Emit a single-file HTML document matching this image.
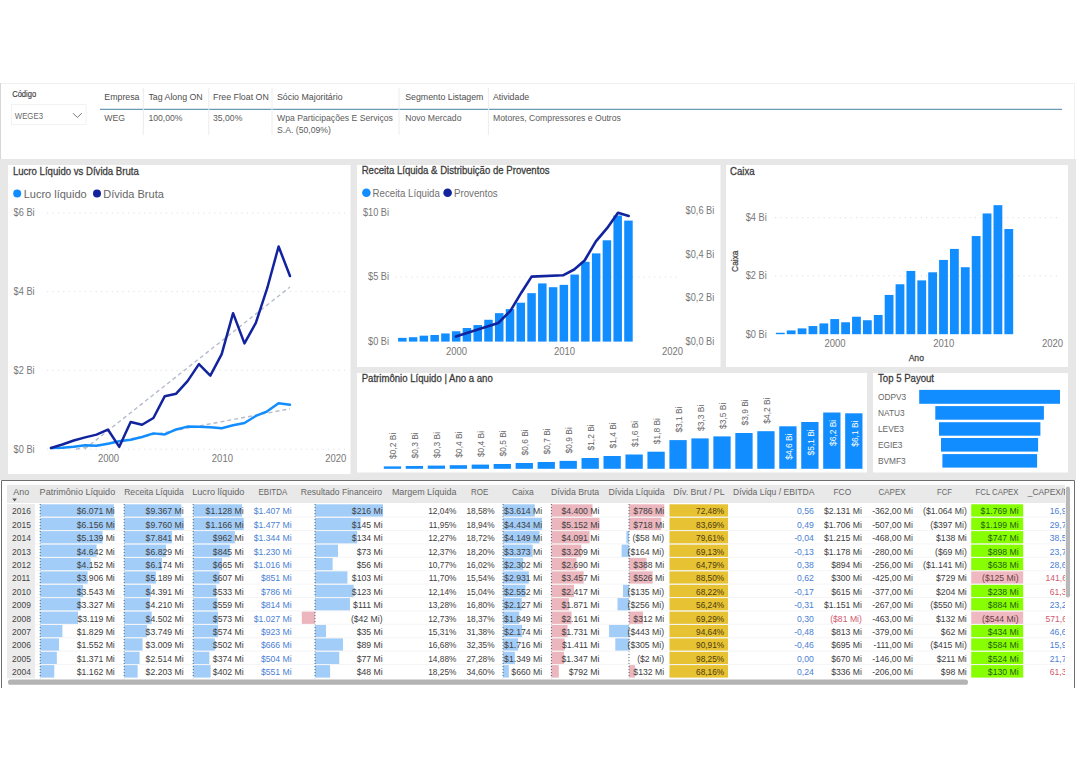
<!DOCTYPE html>
<html><head><meta charset="utf-8"><title>Dashboard</title>
<style>html,body{margin:0;padding:0;background:#fff;} body{width:1076px;height:772px;overflow:hidden;} svg{display:block;font-family:"Liberation Sans",sans-serif;}</style>
</head><body>
<svg width="1076" height="772" viewBox="0 0 1076 772">
<rect x="0.00" y="0.00" width="1076.00" height="772.00" fill="#ffffff" />
<line x1="0.00" y1="83.50" x2="1075.00" y2="83.50" stroke="#f0f0f0" stroke-width="1" />
<line x1="0.50" y1="83.00" x2="0.50" y2="159.00" stroke="#d6d6d6" stroke-width="1" />
<line x1="1074.50" y1="83.00" x2="1074.50" y2="159.00" stroke="#f0f0f0" stroke-width="1" />
<rect x="0.00" y="159.00" width="1076.00" height="321.00" fill="#e7e7e7" />
<rect x="8.00" y="165.00" width="342.50" height="309.00" fill="#ffffff" />
<rect x="357.00" y="165.00" width="363.50" height="202.00" fill="#ffffff" />
<rect x="726.00" y="165.00" width="342.00" height="202.00" fill="#ffffff" />
<rect x="357.00" y="373.00" width="510.00" height="99.50" fill="#ffffff" />
<rect x="873.00" y="373.00" width="195.00" height="99.50" fill="#ffffff" />
<text x="12.20" y="96.80" font-size="8.4" fill="#3a3a3a" text-anchor="start" font-weight="normal" stroke="#3a3a3a" stroke-width="0.15" textLength="24" lengthAdjust="spacingAndGlyphs">Código</text>
<rect x="11.5" y="104.5" width="74.5" height="20" fill="#fff" stroke="#f2f2f2" stroke-width="1"/>
<text x="14.80" y="118.80" font-size="9.2" fill="#6a6a6a" text-anchor="start" font-weight="normal" textLength="28.2" lengthAdjust="spacingAndGlyphs">WEGE3</text>
<polyline points="73,113.2 77.3,117.5 81.8,113.2" fill="none" stroke="#777" stroke-width="1"/>
<text x="104.30" y="100.10" font-size="9.7" fill="#4e4e4e" text-anchor="start" font-weight="normal"  textLength="35.21" lengthAdjust="spacingAndGlyphs">Empresa</text>
<text x="148.40" y="100.10" font-size="9.7" fill="#4e4e4e" text-anchor="start" font-weight="normal"  textLength="54.30" lengthAdjust="spacingAndGlyphs">Tag Along ON</text>
<text x="213.00" y="100.10" font-size="9.7" fill="#4e4e4e" text-anchor="start" font-weight="normal"  textLength="55.75" lengthAdjust="spacingAndGlyphs">Free Float ON</text>
<text x="277.00" y="100.10" font-size="9.7" fill="#4e4e4e" text-anchor="start" font-weight="normal"  textLength="65.54" lengthAdjust="spacingAndGlyphs">Sócio Majoritário</text>
<text x="405.20" y="100.10" font-size="9.7" fill="#4e4e4e" text-anchor="start" font-weight="normal"  textLength="78.27" lengthAdjust="spacingAndGlyphs">Segmento Listagem</text>
<text x="493.00" y="100.10" font-size="9.7" fill="#4e4e4e" text-anchor="start" font-weight="normal"  textLength="36.20" lengthAdjust="spacingAndGlyphs">Atividade</text>
<line x1="100.00" y1="109.30" x2="1062.00" y2="109.30" stroke="#6a9bb0" stroke-width="1.2" />
<line x1="143.30" y1="88.00" x2="143.30" y2="135.00" stroke="#ececec" stroke-width="1" />
<line x1="208.80" y1="88.00" x2="208.80" y2="135.00" stroke="#ececec" stroke-width="1" />
<line x1="272.00" y1="88.00" x2="272.00" y2="135.00" stroke="#ececec" stroke-width="1" />
<line x1="399.00" y1="88.00" x2="399.00" y2="135.00" stroke="#ececec" stroke-width="1" />
<line x1="488.40" y1="88.00" x2="488.40" y2="135.00" stroke="#ececec" stroke-width="1" />
<text x="104.30" y="121.00" font-size="9.5" fill="#5c5c5c" text-anchor="start" font-weight="normal"  textLength="20.66" lengthAdjust="spacingAndGlyphs">WEG</text>
<text x="148.40" y="121.00" font-size="9.5" fill="#5c5c5c" text-anchor="start" font-weight="normal"  textLength="34.15" lengthAdjust="spacingAndGlyphs">100,00%</text>
<text x="213.00" y="121.00" font-size="9.5" fill="#5c5c5c" text-anchor="start" font-weight="normal"  textLength="29.34" lengthAdjust="spacingAndGlyphs">35,00%</text>
<text x="277.00" y="121.00" font-size="9.5" fill="#5c5c5c" text-anchor="start" font-weight="normal"  textLength="115.86" lengthAdjust="spacingAndGlyphs">Wpa Participações E Serviços</text>
<text x="405.20" y="121.00" font-size="9.5" fill="#5c5c5c" text-anchor="start" font-weight="normal"  textLength="56.25" lengthAdjust="spacingAndGlyphs">Novo Mercado</text>
<text x="493.00" y="121.00" font-size="9.5" fill="#5c5c5c" text-anchor="start" font-weight="normal"  textLength="127.87" lengthAdjust="spacingAndGlyphs">Motores, Compressores e Outros</text>
<text x="277.00" y="132.60" font-size="9.5" fill="#5c5c5c" text-anchor="start" font-weight="normal"  textLength="53.85" lengthAdjust="spacingAndGlyphs">S.A. (50,09%)</text>
<text x="12.90" y="174.60" font-size="10.6" fill="#3a3a3a" text-anchor="start" font-weight="normal" stroke="#3a3a3a" stroke-width="0.28" textLength="125.93" lengthAdjust="spacingAndGlyphs">Lucro Líquido vs Dívida Bruta</text>
<circle cx="17.2" cy="193.4" r="4" fill="#118DFF"/>
<text x="23.70" y="197.90" font-size="11.8" fill="#666" text-anchor="start" font-weight="normal"  textLength="62.99" lengthAdjust="spacingAndGlyphs">Lucro líquido</text>
<circle cx="97" cy="193.4" r="4" fill="#12239E"/>
<text x="103.30" y="197.90" font-size="11.8" fill="#666" text-anchor="start" font-weight="normal"  textLength="60.53" lengthAdjust="spacingAndGlyphs">Dívida Bruta</text>
<text x="13.60" y="216.40" font-size="10.3" fill="#777" text-anchor="start" font-weight="normal"  textLength="20.97" lengthAdjust="spacingAndGlyphs">$6 Bi</text>
<line x1="47.00" y1="213.00" x2="345.00" y2="213.00" stroke="#e0e0e0" stroke-width="1" stroke-dasharray="1.2,4.2"/>
<text x="13.60" y="295.00" font-size="10.3" fill="#777" text-anchor="start" font-weight="normal"  textLength="20.97" lengthAdjust="spacingAndGlyphs">$4 Bi</text>
<line x1="47.00" y1="291.60" x2="345.00" y2="291.60" stroke="#e0e0e0" stroke-width="1" stroke-dasharray="1.2,4.2"/>
<text x="13.60" y="373.70" font-size="10.3" fill="#777" text-anchor="start" font-weight="normal"  textLength="20.97" lengthAdjust="spacingAndGlyphs">$2 Bi</text>
<line x1="47.00" y1="370.30" x2="345.00" y2="370.30" stroke="#e0e0e0" stroke-width="1" stroke-dasharray="1.2,4.2"/>
<text x="13.60" y="452.60" font-size="10.3" fill="#777" text-anchor="start" font-weight="normal"  textLength="20.97" lengthAdjust="spacingAndGlyphs">$0 Bi</text>
<line x1="47.00" y1="449.20" x2="345.00" y2="449.20" stroke="#e0e0e0" stroke-width="1" stroke-dasharray="1.2,4.2"/>
<text x="108.60" y="461.80" font-size="10.4" fill="#777" text-anchor="middle" font-weight="normal"  textLength="21.13" lengthAdjust="spacingAndGlyphs">2000</text>
<text x="222.40" y="461.80" font-size="10.4" fill="#777" text-anchor="middle" font-weight="normal"  textLength="21.13" lengthAdjust="spacingAndGlyphs">2010</text>
<text x="335.80" y="461.80" font-size="10.4" fill="#777" text-anchor="middle" font-weight="normal"  textLength="21.13" lengthAdjust="spacingAndGlyphs">2020</text>
<line x1="84.70" y1="449.00" x2="290.00" y2="287.00" stroke="#b4bccc" stroke-width="1.4" stroke-dasharray="4,3"/>
<line x1="76.00" y1="449.20" x2="290.00" y2="408.80" stroke="#b4bccc" stroke-width="1.4" stroke-dasharray="4,3"/>
<polyline points="51.00,448.02 62.38,447.63 73.76,446.84 85.14,445.26 96.52,445.66 107.90,443.69 119.28,441.33 130.66,439.76 142.04,437.00 153.42,433.38 164.80,434.48 176.18,429.45 187.56,426.61 198.94,426.65 210.32,427.20 221.70,428.23 233.08,425.31 244.46,423.03 255.84,415.95 267.22,411.35 278.60,403.32 289.98,404.81" fill="none" stroke="#118DFF" stroke-width="2.5" stroke-linejoin="round" stroke-linecap="round"/>
<polyline points="51.00,448.02 62.38,444.48 73.76,440.54 85.14,437.39 96.52,434.64 107.90,429.52 119.28,446.84 130.66,422.05 142.04,424.80 153.42,418.03 164.80,396.20 176.18,393.68 187.56,381.09 198.94,364.16 210.32,375.58 221.70,354.09 233.08,313.17 244.46,343.35 255.84,322.93 267.22,288.22 278.60,246.47 289.98,276.06" fill="none" stroke="#12239E" stroke-width="2.5" stroke-linejoin="round" stroke-linecap="round"/>
<text x="361.70" y="174.30" font-size="10.6" fill="#3a3a3a" text-anchor="start" font-weight="normal" stroke="#3a3a3a" stroke-width="0.28" textLength="187.84" lengthAdjust="spacingAndGlyphs">Receita Líquida &amp; Distribuição de Proventos</text>
<circle cx="366.4" cy="192.8" r="4.3" fill="#118DFF"/>
<text x="372.50" y="197.00" font-size="10.5" fill="#707070" text-anchor="start" font-weight="normal"  textLength="67.41" lengthAdjust="spacingAndGlyphs">Receita Líquida</text>
<circle cx="447.6" cy="192.8" r="4.3" fill="#12239E"/>
<text x="454.00" y="197.00" font-size="10.5" fill="#707070" text-anchor="start" font-weight="normal"  textLength="43.67" lengthAdjust="spacingAndGlyphs">Proventos</text>
<text x="389.00" y="215.50" font-size="10.3" fill="#777" text-anchor="end" font-weight="normal"  textLength="26.09" lengthAdjust="spacingAndGlyphs">$10 Bi</text>
<text x="389.00" y="280.00" font-size="10.3" fill="#777" text-anchor="end" font-weight="normal"  textLength="20.97" lengthAdjust="spacingAndGlyphs">$5 Bi</text>
<text x="389.00" y="344.50" font-size="10.3" fill="#777" text-anchor="end" font-weight="normal"  textLength="20.97" lengthAdjust="spacingAndGlyphs">$0 Bi</text>
<line x1="395.00" y1="276.90" x2="680.00" y2="276.90" stroke="#e2e2e2" stroke-width="1" stroke-dasharray="1.2,4.2"/>
<text x="685.60" y="214.20" font-size="10.3" fill="#777" text-anchor="start" font-weight="normal"  textLength="28.64" lengthAdjust="spacingAndGlyphs">$0,6 Bi</text>
<text x="685.60" y="258.30" font-size="10.3" fill="#777" text-anchor="start" font-weight="normal"  textLength="28.64" lengthAdjust="spacingAndGlyphs">$0,4 Bi</text>
<text x="685.60" y="301.40" font-size="10.3" fill="#777" text-anchor="start" font-weight="normal"  textLength="28.64" lengthAdjust="spacingAndGlyphs">$0,2 Bi</text>
<text x="685.60" y="344.90" font-size="10.3" fill="#777" text-anchor="start" font-weight="normal"  textLength="28.64" lengthAdjust="spacingAndGlyphs">$0,0 Bi</text>
<text x="456.50" y="354.90" font-size="10.4" fill="#777" text-anchor="middle" font-weight="normal"  textLength="21.13" lengthAdjust="spacingAndGlyphs">2000</text>
<text x="564.50" y="354.90" font-size="10.4" fill="#777" text-anchor="middle" font-weight="normal"  textLength="21.13" lengthAdjust="spacingAndGlyphs">2010</text>
<text x="672.50" y="354.90" font-size="10.4" fill="#777" text-anchor="middle" font-weight="normal"  textLength="21.13" lengthAdjust="spacingAndGlyphs">2020</text>
<rect x="398.10" y="337.85" width="8.50" height="3.75" fill="#118DFF" />
<rect x="408.87" y="337.21" width="8.50" height="4.39" fill="#118DFF" />
<rect x="419.63" y="335.66" width="8.50" height="5.94" fill="#118DFF" />
<rect x="430.40" y="335.01" width="8.50" height="6.59" fill="#118DFF" />
<rect x="441.17" y="333.46" width="8.50" height="8.14" fill="#118DFF" />
<rect x="451.94" y="331.26" width="8.50" height="10.34" fill="#118DFF" />
<rect x="462.70" y="328.03" width="8.50" height="13.57" fill="#118DFF" />
<rect x="473.47" y="325.06" width="8.50" height="16.54" fill="#118DFF" />
<rect x="484.24" y="319.77" width="8.50" height="21.83" fill="#118DFF" />
<rect x="495.00" y="313.14" width="8.50" height="28.46" fill="#118DFF" />
<rect x="505.77" y="309.12" width="8.50" height="32.48" fill="#118DFF" />
<rect x="516.54" y="302.72" width="8.50" height="38.88" fill="#118DFF" />
<rect x="527.30" y="293.16" width="8.50" height="48.44" fill="#118DFF" />
<rect x="538.07" y="283.43" width="8.50" height="58.17" fill="#118DFF" />
<rect x="548.84" y="287.21" width="8.50" height="54.39" fill="#118DFF" />
<rect x="559.61" y="284.87" width="8.50" height="56.73" fill="#118DFF" />
<rect x="570.37" y="274.56" width="8.50" height="67.04" fill="#118DFF" />
<rect x="581.14" y="261.83" width="8.50" height="79.77" fill="#118DFF" />
<rect x="591.91" y="253.37" width="8.50" height="88.23" fill="#118DFF" />
<rect x="602.67" y="240.29" width="8.50" height="101.31" fill="#118DFF" />
<rect x="613.44" y="215.50" width="8.50" height="126.10" fill="#118DFF" />
<rect x="624.21" y="220.58" width="8.50" height="121.02" fill="#118DFF" />
<polyline points="455.90,336.50 498.30,323.00 510.40,310.80 521.30,292.70 531.60,276.60 563.00,275.30 574.20,269.50 584.60,260.50 595.90,241.30 607.10,228.20 618.00,212.80 628.70,216.00" fill="none" stroke="#12239E" stroke-width="2.6" stroke-linejoin="round" stroke-linecap="round"/>
<text x="730.10" y="174.50" font-size="10.6" fill="#3a3a3a" text-anchor="start" font-weight="normal" stroke="#3a3a3a" stroke-width="0.28" textLength="24.54" lengthAdjust="spacingAndGlyphs">Caixa</text>
<text x="0" y="0" font-size="9.4" fill="#4a4a4a" stroke="#4a4a4a" stroke-width="0.28" text-anchor="middle" textLength="21.48" lengthAdjust="spacingAndGlyphs" transform="translate(738,261.2) rotate(-90)">Caixa</text>
<text x="766.70" y="221.10" font-size="10.3" fill="#777" text-anchor="end" font-weight="normal"  textLength="20.97" lengthAdjust="spacingAndGlyphs">$4 Bi</text>
<text x="766.70" y="279.20" font-size="10.3" fill="#777" text-anchor="end" font-weight="normal"  textLength="20.97" lengthAdjust="spacingAndGlyphs">$2 Bi</text>
<text x="766.70" y="337.60" font-size="10.3" fill="#777" text-anchor="end" font-weight="normal"  textLength="20.97" lengthAdjust="spacingAndGlyphs">$0 Bi</text>
<line x1="775.00" y1="217.70" x2="1060.00" y2="217.70" stroke="#dedede" stroke-width="1" stroke-dasharray="1.2,4.2"/>
<line x1="775.00" y1="275.80" x2="1060.00" y2="275.80" stroke="#dedede" stroke-width="1" stroke-dasharray="1.2,4.2"/>
<rect x="775.90" y="332.75" width="8.80" height="1.46" fill="#118DFF" />
<rect x="786.78" y="330.42" width="8.80" height="3.78" fill="#118DFF" />
<rect x="797.66" y="328.38" width="8.80" height="5.82" fill="#118DFF" />
<rect x="808.54" y="326.05" width="8.80" height="8.15" fill="#118DFF" />
<rect x="819.42" y="323.43" width="8.80" height="10.77" fill="#118DFF" />
<rect x="830.30" y="319.07" width="8.80" height="15.13" fill="#118DFF" />
<rect x="841.18" y="322.27" width="8.80" height="11.93" fill="#118DFF" />
<rect x="852.06" y="316.74" width="8.80" height="17.46" fill="#118DFF" />
<rect x="862.94" y="320.23" width="8.80" height="13.97" fill="#118DFF" />
<rect x="873.82" y="314.99" width="8.80" height="19.21" fill="#118DFF" />
<rect x="884.70" y="294.94" width="8.80" height="39.26" fill="#118DFF" />
<rect x="895.58" y="284.26" width="8.80" height="49.94" fill="#118DFF" />
<rect x="906.46" y="270.94" width="8.80" height="63.26" fill="#118DFF" />
<rect x="917.34" y="280.39" width="8.80" height="53.81" fill="#118DFF" />
<rect x="928.22" y="272.30" width="8.80" height="61.90" fill="#118DFF" />
<rect x="939.10" y="259.94" width="8.80" height="74.26" fill="#118DFF" />
<rect x="949.98" y="248.91" width="8.80" height="85.29" fill="#118DFF" />
<rect x="960.86" y="267.21" width="8.80" height="66.99" fill="#118DFF" />
<rect x="971.74" y="236.05" width="8.80" height="98.15" fill="#118DFF" />
<rect x="982.62" y="213.46" width="8.80" height="120.74" fill="#118DFF" />
<rect x="993.50" y="205.17" width="8.80" height="129.03" fill="#118DFF" />
<rect x="1004.38" y="229.03" width="8.80" height="105.17" fill="#118DFF" />
<text x="835.00" y="347.20" font-size="10.4" fill="#777" text-anchor="middle" font-weight="normal"  textLength="21.13" lengthAdjust="spacingAndGlyphs">2000</text>
<text x="943.80" y="347.20" font-size="10.4" fill="#777" text-anchor="middle" font-weight="normal"  textLength="21.13" lengthAdjust="spacingAndGlyphs">2010</text>
<text x="1052.60" y="347.20" font-size="10.4" fill="#777" text-anchor="middle" font-weight="normal"  textLength="21.13" lengthAdjust="spacingAndGlyphs">2020</text>
<text x="916.30" y="361.00" font-size="9.4" fill="#4a4a4a" text-anchor="middle" font-weight="normal" stroke="#4a4a4a" stroke-width="0.28" textLength="15.30" lengthAdjust="spacingAndGlyphs">Ano</text>
<text x="361.70" y="382.40" font-size="10.6" fill="#3a3a3a" text-anchor="start" font-weight="normal" stroke="#3a3a3a" stroke-width="0.28" textLength="131.12" lengthAdjust="spacingAndGlyphs">Patrimônio Líquido | Ano a ano</text>
<rect x="383.80" y="466.40" width="17.30" height="2.40" fill="#118DFF" />
<text x="0" y="0" font-size="9.2" fill="#666" textLength="26.15" lengthAdjust="spacingAndGlyphs" transform="translate(396.05,458.90) rotate(-90)">$0,2 Bi</text>
<rect x="405.77" y="466.00" width="17.30" height="2.80" fill="#118DFF" />
<text x="0" y="0" font-size="9.2" fill="#666" textLength="26.15" lengthAdjust="spacingAndGlyphs" transform="translate(418.02,458.50) rotate(-90)">$0,3 Bi</text>
<rect x="427.74" y="465.60" width="17.30" height="3.20" fill="#118DFF" />
<text x="0" y="0" font-size="9.2" fill="#666" textLength="26.15" lengthAdjust="spacingAndGlyphs" transform="translate(439.99,458.10) rotate(-90)">$0,3 Bi</text>
<rect x="449.71" y="465.20" width="17.30" height="3.60" fill="#118DFF" />
<text x="0" y="0" font-size="9.2" fill="#666" textLength="26.15" lengthAdjust="spacingAndGlyphs" transform="translate(461.96,457.70) rotate(-90)">$0,4 Bi</text>
<rect x="471.68" y="464.60" width="17.30" height="4.20" fill="#118DFF" />
<text x="0" y="0" font-size="9.2" fill="#666" textLength="26.15" lengthAdjust="spacingAndGlyphs" transform="translate(483.93,457.10) rotate(-90)">$0,4 Bi</text>
<rect x="493.65" y="464.00" width="17.30" height="4.80" fill="#118DFF" />
<text x="0" y="0" font-size="9.2" fill="#666" textLength="26.15" lengthAdjust="spacingAndGlyphs" transform="translate(505.90,456.50) rotate(-90)">$0,5 Bi</text>
<rect x="515.62" y="463.00" width="17.30" height="5.80" fill="#118DFF" />
<text x="0" y="0" font-size="9.2" fill="#666" textLength="26.15" lengthAdjust="spacingAndGlyphs" transform="translate(527.87,455.50) rotate(-90)">$0,6 Bi</text>
<rect x="537.59" y="462.00" width="17.30" height="6.80" fill="#118DFF" />
<text x="0" y="0" font-size="9.2" fill="#666" textLength="26.15" lengthAdjust="spacingAndGlyphs" transform="translate(549.84,454.50) rotate(-90)">$0,7 Bi</text>
<rect x="559.56" y="460.90" width="17.30" height="7.90" fill="#118DFF" />
<text x="0" y="0" font-size="9.2" fill="#666" textLength="26.15" lengthAdjust="spacingAndGlyphs" transform="translate(571.81,453.40) rotate(-90)">$0,9 Bi</text>
<rect x="581.53" y="458.00" width="17.30" height="10.80" fill="#118DFF" />
<text x="0" y="0" font-size="9.2" fill="#666" textLength="26.15" lengthAdjust="spacingAndGlyphs" transform="translate(593.78,450.50) rotate(-90)">$1,2 Bi</text>
<rect x="603.50" y="456.00" width="17.30" height="12.80" fill="#118DFF" />
<text x="0" y="0" font-size="9.2" fill="#666" textLength="26.15" lengthAdjust="spacingAndGlyphs" transform="translate(615.75,448.50) rotate(-90)">$1,4 Bi</text>
<rect x="625.47" y="454.50" width="17.30" height="14.30" fill="#118DFF" />
<text x="0" y="0" font-size="9.2" fill="#666" textLength="26.15" lengthAdjust="spacingAndGlyphs" transform="translate(637.72,447.00) rotate(-90)">$1,6 Bi</text>
<rect x="647.44" y="451.70" width="17.30" height="17.10" fill="#118DFF" />
<text x="0" y="0" font-size="9.2" fill="#666" textLength="26.15" lengthAdjust="spacingAndGlyphs" transform="translate(659.69,444.20) rotate(-90)">$1,8 Bi</text>
<rect x="669.41" y="440.10" width="17.30" height="28.70" fill="#118DFF" />
<text x="0" y="0" font-size="9.2" fill="#666" textLength="26.15" lengthAdjust="spacingAndGlyphs" transform="translate(681.66,432.60) rotate(-90)">$3,1 Bi</text>
<rect x="691.38" y="438.40" width="17.30" height="30.40" fill="#118DFF" />
<text x="0" y="0" font-size="9.2" fill="#666" textLength="26.15" lengthAdjust="spacingAndGlyphs" transform="translate(703.63,430.90) rotate(-90)">$3,3 Bi</text>
<rect x="713.35" y="436.40" width="17.30" height="32.40" fill="#118DFF" />
<text x="0" y="0" font-size="9.2" fill="#666" textLength="26.15" lengthAdjust="spacingAndGlyphs" transform="translate(725.60,428.90) rotate(-90)">$3,5 Bi</text>
<rect x="735.32" y="433.00" width="17.30" height="35.80" fill="#118DFF" />
<text x="0" y="0" font-size="9.2" fill="#666" textLength="26.15" lengthAdjust="spacingAndGlyphs" transform="translate(747.57,425.50) rotate(-90)">$3,9 Bi</text>
<rect x="757.29" y="431.20" width="17.30" height="37.60" fill="#118DFF" />
<text x="0" y="0" font-size="9.2" fill="#666" textLength="26.15" lengthAdjust="spacingAndGlyphs" transform="translate(769.54,423.70) rotate(-90)">$4,2 Bi</text>
<rect x="779.26" y="426.30" width="17.30" height="42.50" fill="#118DFF" />
<text x="0" y="0" font-size="9.2" fill="#fff" text-anchor="end" textLength="26.15" lengthAdjust="spacingAndGlyphs" transform="translate(791.71,433.60) rotate(-90)">$4,6 Bi</text>
<rect x="801.23" y="422.00" width="17.30" height="46.80" fill="#118DFF" />
<text x="0" y="0" font-size="9.2" fill="#fff" text-anchor="end" textLength="26.15" lengthAdjust="spacingAndGlyphs" transform="translate(813.68,429.30) rotate(-90)">$5,1 Bi</text>
<rect x="823.20" y="412.50" width="17.30" height="56.30" fill="#118DFF" />
<text x="0" y="0" font-size="9.2" fill="#fff" text-anchor="end" textLength="26.15" lengthAdjust="spacingAndGlyphs" transform="translate(835.65,419.80) rotate(-90)">$6,2 Bi</text>
<rect x="845.17" y="413.30" width="17.30" height="55.50" fill="#118DFF" />
<text x="0" y="0" font-size="9.2" fill="#fff" text-anchor="end" textLength="26.15" lengthAdjust="spacingAndGlyphs" transform="translate(857.62,420.60) rotate(-90)">$6,1 Bi</text>
<text x="878.00" y="382.00" font-size="10.6" fill="#3a3a3a" text-anchor="start" font-weight="normal" stroke="#3a3a3a" stroke-width="0.28" textLength="56.04" lengthAdjust="spacingAndGlyphs">Top 5 Payout</text>
<rect x="919.20" y="389.90" width="140.80" height="13.90" fill="#118DFF" />
<text x="878.00" y="400.15" font-size="9.3" fill="#666" text-anchor="start" font-weight="normal"  textLength="28.14" lengthAdjust="spacingAndGlyphs">ODPV3</text>
<rect x="935.30" y="406.10" width="108.60" height="13.60" fill="#118DFF" />
<text x="878.00" y="416.20" font-size="9.3" fill="#666" text-anchor="start" font-weight="normal"  textLength="26.59" lengthAdjust="spacingAndGlyphs">NATU3</text>
<rect x="939.00" y="422.20" width="101.40" height="13.50" fill="#118DFF" />
<text x="878.00" y="432.25" font-size="9.3" fill="#666" text-anchor="start" font-weight="normal"  textLength="25.84" lengthAdjust="spacingAndGlyphs">LEVE3</text>
<rect x="941.00" y="438.00" width="97.10" height="13.60" fill="#118DFF" />
<text x="878.00" y="448.10" font-size="9.3" fill="#666" text-anchor="start" font-weight="normal"  textLength="24.45" lengthAdjust="spacingAndGlyphs">EGIE3</text>
<rect x="942.40" y="454.10" width="94.70" height="13.50" fill="#118DFF" />
<text x="878.00" y="464.15" font-size="9.3" fill="#666" text-anchor="start" font-weight="normal"  textLength="27.67" lengthAdjust="spacingAndGlyphs">BVMF3</text>
<rect x="1.5" y="480.5" width="1073" height="208" fill="#fff"/>
<path d="M1.5,688 L1.5,480.5 L1074.5,480.5 L1074.5,688" fill="none" stroke="#6e6e6e" stroke-width="1"/>
<rect x="7.00" y="484.80" width="1058.00" height="18.20" fill="#e9e9e9" />
<rect x="7.00" y="504.10" width="28.00" height="174.20" fill="#ececec" />
<rect x="40.20" y="504.30" width="73.67" height="12.50" fill="#a2cdf8" />
<rect x="40.20" y="517.70" width="74.70" height="12.50" fill="#a2cdf8" />
<rect x="40.20" y="531.10" width="62.36" height="12.50" fill="#a2cdf8" />
<rect x="40.20" y="544.50" width="56.33" height="12.50" fill="#a2cdf8" />
<rect x="40.20" y="557.90" width="50.38" height="12.50" fill="#a2cdf8" />
<rect x="40.20" y="571.30" width="47.40" height="12.50" fill="#a2cdf8" />
<rect x="40.20" y="584.70" width="42.99" height="12.50" fill="#a2cdf8" />
<rect x="40.20" y="598.10" width="40.37" height="12.50" fill="#a2cdf8" />
<rect x="40.20" y="611.50" width="37.85" height="12.50" fill="#a2cdf8" />
<rect x="40.20" y="624.90" width="22.19" height="12.50" fill="#a2cdf8" />
<rect x="40.20" y="638.30" width="18.83" height="12.50" fill="#a2cdf8" />
<rect x="40.20" y="651.70" width="16.64" height="12.50" fill="#a2cdf8" />
<rect x="40.20" y="665.10" width="14.10" height="12.50" fill="#a2cdf8" />
<line x1="40.20" y1="504.10" x2="40.20" y2="678.30" stroke="#3a4a5a" stroke-width="0.9" stroke-dasharray="1,2"/>
<rect x="124.20" y="504.30" width="57.20" height="12.50" fill="#a2cdf8" />
<rect x="124.20" y="517.70" width="59.60" height="12.50" fill="#a2cdf8" />
<rect x="124.20" y="531.10" width="47.88" height="12.50" fill="#a2cdf8" />
<rect x="124.20" y="544.50" width="41.70" height="12.50" fill="#a2cdf8" />
<rect x="124.20" y="557.90" width="37.70" height="12.50" fill="#a2cdf8" />
<rect x="124.20" y="571.30" width="31.69" height="12.50" fill="#a2cdf8" />
<rect x="124.20" y="584.70" width="26.81" height="12.50" fill="#a2cdf8" />
<rect x="124.20" y="598.10" width="25.71" height="12.50" fill="#a2cdf8" />
<rect x="124.20" y="611.50" width="27.49" height="12.50" fill="#a2cdf8" />
<rect x="124.20" y="624.90" width="22.89" height="12.50" fill="#a2cdf8" />
<rect x="124.20" y="638.30" width="18.37" height="12.50" fill="#a2cdf8" />
<rect x="124.20" y="651.70" width="15.35" height="12.50" fill="#a2cdf8" />
<rect x="124.20" y="665.10" width="13.45" height="12.50" fill="#a2cdf8" />
<line x1="124.20" y1="504.10" x2="124.20" y2="678.30" stroke="#3a4a5a" stroke-width="0.9" stroke-dasharray="1,2"/>
<rect x="193.20" y="504.30" width="48.85" height="12.50" fill="#a2cdf8" />
<rect x="193.20" y="517.70" width="50.50" height="12.50" fill="#a2cdf8" />
<rect x="193.20" y="531.10" width="41.66" height="12.50" fill="#a2cdf8" />
<rect x="193.20" y="544.50" width="36.60" height="12.50" fill="#a2cdf8" />
<rect x="193.20" y="557.90" width="28.80" height="12.50" fill="#a2cdf8" />
<rect x="193.20" y="571.30" width="26.29" height="12.50" fill="#a2cdf8" />
<rect x="193.20" y="584.70" width="23.08" height="12.50" fill="#a2cdf8" />
<rect x="193.20" y="598.10" width="24.21" height="12.50" fill="#a2cdf8" />
<rect x="193.20" y="611.50" width="24.82" height="12.50" fill="#a2cdf8" />
<rect x="193.20" y="624.90" width="24.86" height="12.50" fill="#a2cdf8" />
<rect x="193.20" y="638.30" width="21.74" height="12.50" fill="#a2cdf8" />
<rect x="193.20" y="651.70" width="16.20" height="12.50" fill="#a2cdf8" />
<rect x="193.20" y="665.10" width="17.41" height="12.50" fill="#a2cdf8" />
<line x1="193.20" y1="504.10" x2="193.20" y2="678.30" stroke="#3a4a5a" stroke-width="0.9" stroke-dasharray="1,2"/>
<rect x="315.00" y="504.30" width="68.00" height="12.50" fill="#a2cdf8" />
<rect x="315.00" y="517.70" width="45.65" height="12.50" fill="#a2cdf8" />
<rect x="315.00" y="531.10" width="42.19" height="12.50" fill="#a2cdf8" />
<rect x="315.00" y="544.50" width="22.98" height="12.50" fill="#a2cdf8" />
<rect x="315.00" y="557.90" width="17.63" height="12.50" fill="#a2cdf8" />
<rect x="315.00" y="571.30" width="32.43" height="12.50" fill="#a2cdf8" />
<rect x="315.00" y="584.70" width="38.72" height="12.50" fill="#a2cdf8" />
<rect x="315.00" y="598.10" width="34.94" height="12.50" fill="#a2cdf8" />
<rect x="301.78" y="611.50" width="13.22" height="12.50" fill="#ebb6be" />
<rect x="315.00" y="624.90" width="11.02" height="12.50" fill="#a2cdf8" />
<rect x="315.00" y="638.30" width="28.02" height="12.50" fill="#a2cdf8" />
<rect x="315.00" y="651.70" width="24.24" height="12.50" fill="#a2cdf8" />
<rect x="315.00" y="665.10" width="15.11" height="12.50" fill="#a2cdf8" />
<line x1="315.00" y1="504.10" x2="315.00" y2="678.30" stroke="#3a4a5a" stroke-width="0.9" stroke-dasharray="1,2"/>
<rect x="503.00" y="504.30" width="31.79" height="12.50" fill="#a2cdf8" />
<rect x="503.00" y="517.70" width="39.00" height="12.50" fill="#a2cdf8" />
<rect x="503.00" y="531.10" width="36.49" height="12.50" fill="#a2cdf8" />
<rect x="503.00" y="544.50" width="29.67" height="12.50" fill="#a2cdf8" />
<rect x="503.00" y="557.90" width="20.25" height="12.50" fill="#a2cdf8" />
<rect x="503.00" y="571.30" width="25.78" height="12.50" fill="#a2cdf8" />
<rect x="503.00" y="584.70" width="22.45" height="12.50" fill="#a2cdf8" />
<rect x="503.00" y="598.10" width="18.71" height="12.50" fill="#a2cdf8" />
<rect x="503.00" y="611.50" width="16.26" height="12.50" fill="#a2cdf8" />
<rect x="503.00" y="624.90" width="19.12" height="12.50" fill="#a2cdf8" />
<rect x="503.00" y="638.30" width="15.09" height="12.50" fill="#a2cdf8" />
<rect x="503.00" y="651.70" width="11.87" height="12.50" fill="#a2cdf8" />
<rect x="503.00" y="665.10" width="5.81" height="12.50" fill="#a2cdf8" />
<line x1="503.00" y1="504.10" x2="503.00" y2="678.30" stroke="#3a4a5a" stroke-width="0.9" stroke-dasharray="1,2"/>
<rect x="551.40" y="504.30" width="41.08" height="12.50" fill="#ebb6be" />
<rect x="551.40" y="517.70" width="48.10" height="12.50" fill="#ebb6be" />
<rect x="551.40" y="531.10" width="38.19" height="12.50" fill="#ebb6be" />
<rect x="551.40" y="544.50" width="29.96" height="12.50" fill="#ebb6be" />
<rect x="551.40" y="557.90" width="25.11" height="12.50" fill="#ebb6be" />
<rect x="551.40" y="571.30" width="32.28" height="12.50" fill="#ebb6be" />
<rect x="551.40" y="584.70" width="22.57" height="12.50" fill="#ebb6be" />
<rect x="551.40" y="598.10" width="17.47" height="12.50" fill="#ebb6be" />
<rect x="551.40" y="611.50" width="20.18" height="12.50" fill="#ebb6be" />
<rect x="551.40" y="624.90" width="16.16" height="12.50" fill="#ebb6be" />
<rect x="551.40" y="638.30" width="13.17" height="12.50" fill="#ebb6be" />
<rect x="551.40" y="651.70" width="12.58" height="12.50" fill="#ebb6be" />
<rect x="551.40" y="665.10" width="7.39" height="12.50" fill="#ebb6be" />
<line x1="551.40" y1="504.10" x2="551.40" y2="678.30" stroke="#3a4a5a" stroke-width="0.9" stroke-dasharray="1,2"/>
<rect x="629.00" y="504.30" width="35.30" height="12.50" fill="#ebb6be" />
<rect x="629.00" y="517.70" width="32.25" height="12.50" fill="#ebb6be" />
<rect x="626.40" y="531.10" width="2.60" height="12.50" fill="#a2cdf8" />
<rect x="621.63" y="544.50" width="7.37" height="12.50" fill="#a2cdf8" />
<rect x="629.00" y="557.90" width="17.43" height="12.50" fill="#ebb6be" />
<rect x="629.00" y="571.30" width="23.62" height="12.50" fill="#ebb6be" />
<rect x="622.94" y="584.70" width="6.06" height="12.50" fill="#a2cdf8" />
<rect x="617.50" y="598.10" width="11.50" height="12.50" fill="#a2cdf8" />
<rect x="629.00" y="611.50" width="14.01" height="12.50" fill="#ebb6be" />
<rect x="609.10" y="624.90" width="19.90" height="12.50" fill="#a2cdf8" />
<rect x="615.30" y="638.30" width="13.70" height="12.50" fill="#a2cdf8" />
<rect x="628.91" y="651.70" width="0.09" height="12.50" fill="#a2cdf8" />
<rect x="629.00" y="665.10" width="5.93" height="12.50" fill="#ebb6be" />
<line x1="629.00" y1="504.10" x2="629.00" y2="678.30" stroke="#3a4a5a" stroke-width="0.9" stroke-dasharray="1,2"/>
<rect x="669.50" y="504.30" width="58.50" height="12.50" fill="#e7c232" />
<rect x="971.20" y="504.30" width="52.00" height="12.50" fill="#88ff00" />
<rect x="669.50" y="517.70" width="58.50" height="12.50" fill="#e7c232" />
<rect x="971.20" y="517.70" width="52.00" height="12.50" fill="#88ff00" />
<rect x="669.50" y="531.10" width="58.50" height="12.50" fill="#e7c232" />
<rect x="971.20" y="531.10" width="52.00" height="12.50" fill="#88ff00" />
<rect x="669.50" y="544.50" width="58.50" height="12.50" fill="#e7c232" />
<rect x="971.20" y="544.50" width="52.00" height="12.50" fill="#88ff00" />
<rect x="669.50" y="557.90" width="58.50" height="12.50" fill="#e7c232" />
<rect x="971.20" y="557.90" width="52.00" height="12.50" fill="#88ff00" />
<rect x="669.50" y="571.30" width="58.50" height="12.50" fill="#e7c232" />
<rect x="971.20" y="571.30" width="52.00" height="12.50" fill="#f0b9c2" />
<rect x="669.50" y="584.70" width="58.50" height="12.50" fill="#e7c232" />
<rect x="971.20" y="584.70" width="52.00" height="12.50" fill="#88ff00" />
<rect x="669.50" y="598.10" width="58.50" height="12.50" fill="#e7c232" />
<rect x="971.20" y="598.10" width="52.00" height="12.50" fill="#88ff00" />
<rect x="669.50" y="611.50" width="58.50" height="12.50" fill="#e7c232" />
<rect x="971.20" y="611.50" width="52.00" height="12.50" fill="#f0b9c2" />
<rect x="669.50" y="624.90" width="58.50" height="12.50" fill="#e7c232" />
<rect x="971.20" y="624.90" width="52.00" height="12.50" fill="#88ff00" />
<rect x="669.50" y="638.30" width="58.50" height="12.50" fill="#e7c232" />
<rect x="971.20" y="638.30" width="52.00" height="12.50" fill="#88ff00" />
<rect x="669.50" y="651.70" width="58.50" height="12.50" fill="#e7c232" />
<rect x="971.20" y="651.70" width="52.00" height="12.50" fill="#88ff00" />
<rect x="669.50" y="665.10" width="58.50" height="12.50" fill="#e7c232" />
<rect x="971.20" y="665.10" width="52.00" height="12.50" fill="#88ff00" />
<line x1="35.00" y1="517.10" x2="1065.00" y2="517.10" stroke="#f2f2f2" stroke-width="0.8" />
<line x1="35.00" y1="530.50" x2="1065.00" y2="530.50" stroke="#f2f2f2" stroke-width="0.8" />
<line x1="35.00" y1="543.90" x2="1065.00" y2="543.90" stroke="#f2f2f2" stroke-width="0.8" />
<line x1="35.00" y1="557.30" x2="1065.00" y2="557.30" stroke="#f2f2f2" stroke-width="0.8" />
<line x1="35.00" y1="570.70" x2="1065.00" y2="570.70" stroke="#f2f2f2" stroke-width="0.8" />
<line x1="35.00" y1="584.10" x2="1065.00" y2="584.10" stroke="#f2f2f2" stroke-width="0.8" />
<line x1="35.00" y1="597.50" x2="1065.00" y2="597.50" stroke="#f2f2f2" stroke-width="0.8" />
<line x1="35.00" y1="610.90" x2="1065.00" y2="610.90" stroke="#f2f2f2" stroke-width="0.8" />
<line x1="35.00" y1="624.30" x2="1065.00" y2="624.30" stroke="#f2f2f2" stroke-width="0.8" />
<line x1="35.00" y1="637.70" x2="1065.00" y2="637.70" stroke="#f2f2f2" stroke-width="0.8" />
<line x1="35.00" y1="651.10" x2="1065.00" y2="651.10" stroke="#f2f2f2" stroke-width="0.8" />
<line x1="35.00" y1="664.50" x2="1065.00" y2="664.50" stroke="#f2f2f2" stroke-width="0.8" />
<clipPath id="tclip"><rect x="7" y="484" width="1058" height="200"/></clipPath>
<g clip-path="url(#tclip)">
<text x="13.30" y="495.20" font-size="9.3" fill="#666" text-anchor="start" font-weight="normal" textLength="15.85" lengthAdjust="spacingAndGlyphs">Ano</text>
<text x="39.60" y="495.20" font-size="9.3" fill="#666" text-anchor="start" font-weight="normal" textLength="75.60" lengthAdjust="spacingAndGlyphs">Patrimônio Líquido</text>
<text x="124.20" y="495.20" font-size="9.3" fill="#666" text-anchor="start" font-weight="normal" textLength="59.50" lengthAdjust="spacingAndGlyphs">Receita Líquida</text>
<text x="192.20" y="495.20" font-size="9.3" fill="#666" text-anchor="start" font-weight="normal" textLength="52.20" lengthAdjust="spacingAndGlyphs">Lucro líquido</text>
<text x="258.50" y="495.20" font-size="9.3" fill="#666" text-anchor="start" font-weight="normal" textLength="28.80" lengthAdjust="spacingAndGlyphs">EBITDA</text>
<text x="300.80" y="495.20" font-size="9.3" fill="#666" text-anchor="start" font-weight="normal" textLength="81.30" lengthAdjust="spacingAndGlyphs">Resultado Financeiro</text>
<text x="391.90" y="495.20" font-size="9.3" fill="#666" text-anchor="start" font-weight="normal" textLength="64.50" lengthAdjust="spacingAndGlyphs">Margem Líquida</text>
<text x="471.10" y="495.20" font-size="9.3" fill="#666" text-anchor="start" font-weight="normal" textLength="17.30" lengthAdjust="spacingAndGlyphs">ROE</text>
<text x="511.90" y="495.20" font-size="9.3" fill="#666" text-anchor="start" font-weight="normal" textLength="21.80" lengthAdjust="spacingAndGlyphs">Caixa</text>
<text x="551.00" y="495.20" font-size="9.3" fill="#666" text-anchor="start" font-weight="normal" textLength="48.20" lengthAdjust="spacingAndGlyphs">Dívida Bruta</text>
<text x="608.50" y="495.20" font-size="9.3" fill="#666" text-anchor="start" font-weight="normal" textLength="56.10" lengthAdjust="spacingAndGlyphs">Dívida Líquida</text>
<text x="673.30" y="495.20" font-size="9.3" fill="#666" text-anchor="start" font-weight="normal" textLength="51.20" lengthAdjust="spacingAndGlyphs">Dív. Brut / PL</text>
<text x="733.10" y="495.20" font-size="9.3" fill="#666" text-anchor="start" font-weight="normal" textLength="81.30" lengthAdjust="spacingAndGlyphs">Dívida Líqu / EBITDA</text>
<text x="833.50" y="495.20" font-size="9.3" fill="#666" text-anchor="start" font-weight="normal" textLength="17.70" lengthAdjust="spacingAndGlyphs">FCO</text>
<text x="878.50" y="495.20" font-size="9.3" fill="#666" text-anchor="start" font-weight="normal" textLength="27.10" lengthAdjust="spacingAndGlyphs">CAPEX</text>
<text x="937.10" y="495.20" font-size="9.3" fill="#666" text-anchor="start" font-weight="normal" textLength="14.80" lengthAdjust="spacingAndGlyphs">FCF</text>
<text x="975.50" y="495.20" font-size="9.3" fill="#666" text-anchor="start" font-weight="normal" textLength="43.00" lengthAdjust="spacingAndGlyphs">FCL CAPEX</text>
<text x="1027.70" y="495.20" font-size="9.3" fill="#666" text-anchor="start" font-weight="normal" textLength="40.80" lengthAdjust="spacingAndGlyphs">_CAPEX/F</text>
<polygon points="12.3,498.6 16.9,498.6 14.6,501.6" fill="#555"/>
<text x="12.10" y="514.40" font-size="9.3" fill="#444" text-anchor="start" font-weight="normal"  textLength="18.80" lengthAdjust="spacingAndGlyphs">2016</text>
<text x="114.80" y="514.40" font-size="9.3" fill="#404040" text-anchor="end" font-weight="normal"  textLength="37.99" lengthAdjust="spacingAndGlyphs">$6.071 Mi</text>
<text x="183.60" y="514.40" font-size="9.3" fill="#404040" text-anchor="end" font-weight="normal"  textLength="37.99" lengthAdjust="spacingAndGlyphs">$9.367 Mi</text>
<text x="243.60" y="514.40" font-size="9.3" fill="#404040" text-anchor="end" font-weight="normal"  textLength="37.99" lengthAdjust="spacingAndGlyphs">$1.128 Mi</text>
<text x="291.70" y="514.40" font-size="9.3" fill="#4a80d4" text-anchor="end" font-weight="normal"  textLength="37.99" lengthAdjust="spacingAndGlyphs">$1.407 Mi</text>
<text x="382.60" y="514.40" font-size="9.3" fill="#404040" text-anchor="end" font-weight="normal"  textLength="30.77" lengthAdjust="spacingAndGlyphs">$216 Mi</text>
<text x="456.40" y="514.40" font-size="9.3" fill="#404040" text-anchor="end" font-weight="normal"  textLength="28.15" lengthAdjust="spacingAndGlyphs">12,04%</text>
<text x="494.60" y="514.40" font-size="9.3" fill="#404040" text-anchor="end" font-weight="normal"  textLength="28.15" lengthAdjust="spacingAndGlyphs">18,58%</text>
<text x="542.10" y="514.40" font-size="9.3" fill="#404040" text-anchor="end" font-weight="normal"  textLength="37.99" lengthAdjust="spacingAndGlyphs">$3.614 Mi</text>
<text x="599.40" y="514.40" font-size="9.3" fill="#404040" text-anchor="end" font-weight="normal"  textLength="37.99" lengthAdjust="spacingAndGlyphs">$4.400 Mi</text>
<text x="664.10" y="514.40" font-size="9.3" fill="#404040" text-anchor="end" font-weight="normal"  textLength="30.77" lengthAdjust="spacingAndGlyphs">$786 Mi</text>
<text x="724.20" y="514.40" font-size="9.3" fill="#4a3b10" text-anchor="end" font-weight="normal"  textLength="28.15" lengthAdjust="spacingAndGlyphs">72,48%</text>
<text x="813.90" y="514.40" font-size="9.3" fill="#4a80d4" text-anchor="end" font-weight="normal"  textLength="16.84" lengthAdjust="spacingAndGlyphs">0,56</text>
<text x="861.90" y="514.40" font-size="9.3" fill="#404040" text-anchor="end" font-weight="normal"  textLength="37.99" lengthAdjust="spacingAndGlyphs">$2.131 Mi</text>
<text x="913.00" y="514.40" font-size="9.3" fill="#404040" text-anchor="end" font-weight="normal"  textLength="40.87" lengthAdjust="spacingAndGlyphs">-362,00 Mi</text>
<text x="966.80" y="514.40" font-size="9.3" fill="#404040" text-anchor="end" font-weight="normal"  textLength="43.75" lengthAdjust="spacingAndGlyphs">($1.064 Mi)</text>
<text x="1018.60" y="514.40" font-size="9.3" fill="#1f5f10" text-anchor="end" font-weight="normal"  textLength="37.99" lengthAdjust="spacingAndGlyphs">$1.769 Mi</text>
<text x="1049.70" y="514.40" font-size="9.3" fill="#4a80d4" text-anchor="start" font-weight="normal"  textLength="16.74" lengthAdjust="spacingAndGlyphs">16,9</text>
<text x="12.10" y="527.80" font-size="9.3" fill="#444" text-anchor="start" font-weight="normal"  textLength="18.80" lengthAdjust="spacingAndGlyphs">2015</text>
<text x="114.80" y="527.80" font-size="9.3" fill="#404040" text-anchor="end" font-weight="normal"  textLength="37.99" lengthAdjust="spacingAndGlyphs">$6.156 Mi</text>
<text x="183.60" y="527.80" font-size="9.3" fill="#404040" text-anchor="end" font-weight="normal"  textLength="37.99" lengthAdjust="spacingAndGlyphs">$9.760 Mi</text>
<text x="243.60" y="527.80" font-size="9.3" fill="#404040" text-anchor="end" font-weight="normal"  textLength="37.99" lengthAdjust="spacingAndGlyphs">$1.166 Mi</text>
<text x="291.70" y="527.80" font-size="9.3" fill="#4a80d4" text-anchor="end" font-weight="normal"  textLength="37.99" lengthAdjust="spacingAndGlyphs">$1.477 Mi</text>
<text x="382.60" y="527.80" font-size="9.3" fill="#404040" text-anchor="end" font-weight="normal"  textLength="30.77" lengthAdjust="spacingAndGlyphs">$145 Mi</text>
<text x="456.40" y="527.80" font-size="9.3" fill="#404040" text-anchor="end" font-weight="normal"  textLength="27.53" lengthAdjust="spacingAndGlyphs">11,95%</text>
<text x="494.60" y="527.80" font-size="9.3" fill="#404040" text-anchor="end" font-weight="normal"  textLength="28.15" lengthAdjust="spacingAndGlyphs">18,94%</text>
<text x="542.10" y="527.80" font-size="9.3" fill="#404040" text-anchor="end" font-weight="normal"  textLength="37.99" lengthAdjust="spacingAndGlyphs">$4.434 Mi</text>
<text x="599.40" y="527.80" font-size="9.3" fill="#404040" text-anchor="end" font-weight="normal"  textLength="37.99" lengthAdjust="spacingAndGlyphs">$5.152 Mi</text>
<text x="664.10" y="527.80" font-size="9.3" fill="#404040" text-anchor="end" font-weight="normal"  textLength="30.77" lengthAdjust="spacingAndGlyphs">$718 Mi</text>
<text x="724.20" y="527.80" font-size="9.3" fill="#4a3b10" text-anchor="end" font-weight="normal"  textLength="28.15" lengthAdjust="spacingAndGlyphs">83,69%</text>
<text x="813.90" y="527.80" font-size="9.3" fill="#4a80d4" text-anchor="end" font-weight="normal"  textLength="16.84" lengthAdjust="spacingAndGlyphs">0,49</text>
<text x="861.90" y="527.80" font-size="9.3" fill="#404040" text-anchor="end" font-weight="normal"  textLength="37.99" lengthAdjust="spacingAndGlyphs">$1.706 Mi</text>
<text x="913.00" y="527.80" font-size="9.3" fill="#404040" text-anchor="end" font-weight="normal"  textLength="40.87" lengthAdjust="spacingAndGlyphs">-507,00 Mi</text>
<text x="966.80" y="527.80" font-size="9.3" fill="#404040" text-anchor="end" font-weight="normal"  textLength="36.53" lengthAdjust="spacingAndGlyphs">($397 Mi)</text>
<text x="1018.60" y="527.80" font-size="9.3" fill="#1f5f10" text-anchor="end" font-weight="normal"  textLength="37.99" lengthAdjust="spacingAndGlyphs">$1.199 Mi</text>
<text x="1049.70" y="527.80" font-size="9.3" fill="#4a80d4" text-anchor="start" font-weight="normal"  textLength="16.74" lengthAdjust="spacingAndGlyphs">29,7</text>
<text x="12.10" y="541.20" font-size="9.3" fill="#444" text-anchor="start" font-weight="normal"  textLength="18.80" lengthAdjust="spacingAndGlyphs">2014</text>
<text x="114.80" y="541.20" font-size="9.3" fill="#404040" text-anchor="end" font-weight="normal"  textLength="37.99" lengthAdjust="spacingAndGlyphs">$5.139 Mi</text>
<text x="183.60" y="541.20" font-size="9.3" fill="#404040" text-anchor="end" font-weight="normal"  textLength="37.99" lengthAdjust="spacingAndGlyphs">$7.841 Mi</text>
<text x="243.60" y="541.20" font-size="9.3" fill="#404040" text-anchor="end" font-weight="normal"  textLength="30.77" lengthAdjust="spacingAndGlyphs">$962 Mi</text>
<text x="291.70" y="541.20" font-size="9.3" fill="#4a80d4" text-anchor="end" font-weight="normal"  textLength="37.99" lengthAdjust="spacingAndGlyphs">$1.344 Mi</text>
<text x="382.60" y="541.20" font-size="9.3" fill="#404040" text-anchor="end" font-weight="normal"  textLength="30.77" lengthAdjust="spacingAndGlyphs">$134 Mi</text>
<text x="456.40" y="541.20" font-size="9.3" fill="#404040" text-anchor="end" font-weight="normal"  textLength="28.15" lengthAdjust="spacingAndGlyphs">12,27%</text>
<text x="494.60" y="541.20" font-size="9.3" fill="#404040" text-anchor="end" font-weight="normal"  textLength="28.15" lengthAdjust="spacingAndGlyphs">18,72%</text>
<text x="542.10" y="541.20" font-size="9.3" fill="#404040" text-anchor="end" font-weight="normal"  textLength="37.99" lengthAdjust="spacingAndGlyphs">$4.149 Mi</text>
<text x="599.40" y="541.20" font-size="9.3" fill="#404040" text-anchor="end" font-weight="normal"  textLength="37.99" lengthAdjust="spacingAndGlyphs">$4.091 Mi</text>
<text x="664.10" y="541.20" font-size="9.3" fill="#404040" text-anchor="end" font-weight="normal"  textLength="31.72" lengthAdjust="spacingAndGlyphs">($58 Mi)</text>
<text x="724.20" y="541.20" font-size="9.3" fill="#4a3b10" text-anchor="end" font-weight="normal"  textLength="28.15" lengthAdjust="spacingAndGlyphs">79,61%</text>
<text x="813.90" y="541.20" font-size="9.3" fill="#4a80d4" text-anchor="end" font-weight="normal"  textLength="19.72" lengthAdjust="spacingAndGlyphs">-0,04</text>
<text x="861.90" y="541.20" font-size="9.3" fill="#404040" text-anchor="end" font-weight="normal"  textLength="37.99" lengthAdjust="spacingAndGlyphs">$1.215 Mi</text>
<text x="913.00" y="541.20" font-size="9.3" fill="#404040" text-anchor="end" font-weight="normal"  textLength="40.87" lengthAdjust="spacingAndGlyphs">-468,00 Mi</text>
<text x="966.80" y="541.20" font-size="9.3" fill="#404040" text-anchor="end" font-weight="normal"  textLength="30.77" lengthAdjust="spacingAndGlyphs">$138 Mi</text>
<text x="1018.60" y="541.20" font-size="9.3" fill="#1f5f10" text-anchor="end" font-weight="normal"  textLength="30.77" lengthAdjust="spacingAndGlyphs">$747 Mi</text>
<text x="1049.70" y="541.20" font-size="9.3" fill="#4a80d4" text-anchor="start" font-weight="normal"  textLength="16.74" lengthAdjust="spacingAndGlyphs">38,5</text>
<text x="12.10" y="554.60" font-size="9.3" fill="#444" text-anchor="start" font-weight="normal"  textLength="18.80" lengthAdjust="spacingAndGlyphs">2013</text>
<text x="114.80" y="554.60" font-size="9.3" fill="#404040" text-anchor="end" font-weight="normal"  textLength="37.99" lengthAdjust="spacingAndGlyphs">$4.642 Mi</text>
<text x="183.60" y="554.60" font-size="9.3" fill="#404040" text-anchor="end" font-weight="normal"  textLength="37.99" lengthAdjust="spacingAndGlyphs">$6.829 Mi</text>
<text x="243.60" y="554.60" font-size="9.3" fill="#404040" text-anchor="end" font-weight="normal"  textLength="30.77" lengthAdjust="spacingAndGlyphs">$845 Mi</text>
<text x="291.70" y="554.60" font-size="9.3" fill="#4a80d4" text-anchor="end" font-weight="normal"  textLength="37.99" lengthAdjust="spacingAndGlyphs">$1.230 Mi</text>
<text x="382.60" y="554.60" font-size="9.3" fill="#404040" text-anchor="end" font-weight="normal"  textLength="25.96" lengthAdjust="spacingAndGlyphs">$73 Mi</text>
<text x="456.40" y="554.60" font-size="9.3" fill="#404040" text-anchor="end" font-weight="normal"  textLength="28.15" lengthAdjust="spacingAndGlyphs">12,37%</text>
<text x="494.60" y="554.60" font-size="9.3" fill="#404040" text-anchor="end" font-weight="normal"  textLength="28.15" lengthAdjust="spacingAndGlyphs">18,20%</text>
<text x="542.10" y="554.60" font-size="9.3" fill="#404040" text-anchor="end" font-weight="normal"  textLength="37.99" lengthAdjust="spacingAndGlyphs">$3.373 Mi</text>
<text x="599.40" y="554.60" font-size="9.3" fill="#404040" text-anchor="end" font-weight="normal"  textLength="37.99" lengthAdjust="spacingAndGlyphs">$3.209 Mi</text>
<text x="664.10" y="554.60" font-size="9.3" fill="#404040" text-anchor="end" font-weight="normal"  textLength="36.53" lengthAdjust="spacingAndGlyphs">($164 Mi)</text>
<text x="724.20" y="554.60" font-size="9.3" fill="#4a3b10" text-anchor="end" font-weight="normal"  textLength="28.15" lengthAdjust="spacingAndGlyphs">69,13%</text>
<text x="813.90" y="554.60" font-size="9.3" fill="#4a80d4" text-anchor="end" font-weight="normal"  textLength="19.72" lengthAdjust="spacingAndGlyphs">-0,13</text>
<text x="861.90" y="554.60" font-size="9.3" fill="#404040" text-anchor="end" font-weight="normal"  textLength="37.99" lengthAdjust="spacingAndGlyphs">$1.178 Mi</text>
<text x="913.00" y="554.60" font-size="9.3" fill="#404040" text-anchor="end" font-weight="normal"  textLength="40.87" lengthAdjust="spacingAndGlyphs">-280,00 Mi</text>
<text x="966.80" y="554.60" font-size="9.3" fill="#404040" text-anchor="end" font-weight="normal"  textLength="31.72" lengthAdjust="spacingAndGlyphs">($69 Mi)</text>
<text x="1018.60" y="554.60" font-size="9.3" fill="#1f5f10" text-anchor="end" font-weight="normal"  textLength="30.77" lengthAdjust="spacingAndGlyphs">$898 Mi</text>
<text x="1049.70" y="554.60" font-size="9.3" fill="#4a80d4" text-anchor="start" font-weight="normal"  textLength="16.74" lengthAdjust="spacingAndGlyphs">23,7</text>
<text x="12.10" y="568.00" font-size="9.3" fill="#444" text-anchor="start" font-weight="normal"  textLength="18.80" lengthAdjust="spacingAndGlyphs">2012</text>
<text x="114.80" y="568.00" font-size="9.3" fill="#404040" text-anchor="end" font-weight="normal"  textLength="37.99" lengthAdjust="spacingAndGlyphs">$4.152 Mi</text>
<text x="183.60" y="568.00" font-size="9.3" fill="#404040" text-anchor="end" font-weight="normal"  textLength="37.99" lengthAdjust="spacingAndGlyphs">$6.174 Mi</text>
<text x="243.60" y="568.00" font-size="9.3" fill="#404040" text-anchor="end" font-weight="normal"  textLength="30.77" lengthAdjust="spacingAndGlyphs">$665 Mi</text>
<text x="291.70" y="568.00" font-size="9.3" fill="#4a80d4" text-anchor="end" font-weight="normal"  textLength="37.99" lengthAdjust="spacingAndGlyphs">$1.016 Mi</text>
<text x="382.60" y="568.00" font-size="9.3" fill="#404040" text-anchor="end" font-weight="normal"  textLength="25.96" lengthAdjust="spacingAndGlyphs">$56 Mi</text>
<text x="456.40" y="568.00" font-size="9.3" fill="#404040" text-anchor="end" font-weight="normal"  textLength="28.15" lengthAdjust="spacingAndGlyphs">10,77%</text>
<text x="494.60" y="568.00" font-size="9.3" fill="#404040" text-anchor="end" font-weight="normal"  textLength="28.15" lengthAdjust="spacingAndGlyphs">16,02%</text>
<text x="542.10" y="568.00" font-size="9.3" fill="#404040" text-anchor="end" font-weight="normal"  textLength="37.99" lengthAdjust="spacingAndGlyphs">$2.302 Mi</text>
<text x="599.40" y="568.00" font-size="9.3" fill="#404040" text-anchor="end" font-weight="normal"  textLength="37.99" lengthAdjust="spacingAndGlyphs">$2.690 Mi</text>
<text x="664.10" y="568.00" font-size="9.3" fill="#404040" text-anchor="end" font-weight="normal"  textLength="30.77" lengthAdjust="spacingAndGlyphs">$388 Mi</text>
<text x="724.20" y="568.00" font-size="9.3" fill="#4a3b10" text-anchor="end" font-weight="normal"  textLength="28.15" lengthAdjust="spacingAndGlyphs">64,79%</text>
<text x="813.90" y="568.00" font-size="9.3" fill="#4a80d4" text-anchor="end" font-weight="normal"  textLength="16.84" lengthAdjust="spacingAndGlyphs">0,38</text>
<text x="861.90" y="568.00" font-size="9.3" fill="#404040" text-anchor="end" font-weight="normal"  textLength="30.77" lengthAdjust="spacingAndGlyphs">$894 Mi</text>
<text x="913.00" y="568.00" font-size="9.3" fill="#404040" text-anchor="end" font-weight="normal"  textLength="40.87" lengthAdjust="spacingAndGlyphs">-256,00 Mi</text>
<text x="966.80" y="568.00" font-size="9.3" fill="#404040" text-anchor="end" font-weight="normal"  textLength="43.75" lengthAdjust="spacingAndGlyphs">($1.141 Mi)</text>
<text x="1018.60" y="568.00" font-size="9.3" fill="#1f5f10" text-anchor="end" font-weight="normal"  textLength="30.77" lengthAdjust="spacingAndGlyphs">$638 Mi</text>
<text x="1049.70" y="568.00" font-size="9.3" fill="#4a80d4" text-anchor="start" font-weight="normal"  textLength="16.74" lengthAdjust="spacingAndGlyphs">28,6</text>
<text x="12.10" y="581.40" font-size="9.3" fill="#444" text-anchor="start" font-weight="normal"  textLength="18.17" lengthAdjust="spacingAndGlyphs">2011</text>
<text x="114.80" y="581.40" font-size="9.3" fill="#404040" text-anchor="end" font-weight="normal"  textLength="37.99" lengthAdjust="spacingAndGlyphs">$3.906 Mi</text>
<text x="183.60" y="581.40" font-size="9.3" fill="#404040" text-anchor="end" font-weight="normal"  textLength="37.99" lengthAdjust="spacingAndGlyphs">$5.189 Mi</text>
<text x="243.60" y="581.40" font-size="9.3" fill="#404040" text-anchor="end" font-weight="normal"  textLength="30.77" lengthAdjust="spacingAndGlyphs">$607 Mi</text>
<text x="291.70" y="581.40" font-size="9.3" fill="#4a80d4" text-anchor="end" font-weight="normal"  textLength="30.77" lengthAdjust="spacingAndGlyphs">$851 Mi</text>
<text x="382.60" y="581.40" font-size="9.3" fill="#404040" text-anchor="end" font-weight="normal"  textLength="30.77" lengthAdjust="spacingAndGlyphs">$103 Mi</text>
<text x="456.40" y="581.40" font-size="9.3" fill="#404040" text-anchor="end" font-weight="normal"  textLength="27.53" lengthAdjust="spacingAndGlyphs">11,70%</text>
<text x="494.60" y="581.40" font-size="9.3" fill="#404040" text-anchor="end" font-weight="normal"  textLength="28.15" lengthAdjust="spacingAndGlyphs">15,54%</text>
<text x="542.10" y="581.40" font-size="9.3" fill="#404040" text-anchor="end" font-weight="normal"  textLength="37.99" lengthAdjust="spacingAndGlyphs">$2.931 Mi</text>
<text x="599.40" y="581.40" font-size="9.3" fill="#404040" text-anchor="end" font-weight="normal"  textLength="37.99" lengthAdjust="spacingAndGlyphs">$3.457 Mi</text>
<text x="664.10" y="581.40" font-size="9.3" fill="#404040" text-anchor="end" font-weight="normal"  textLength="30.77" lengthAdjust="spacingAndGlyphs">$526 Mi</text>
<text x="724.20" y="581.40" font-size="9.3" fill="#4a3b10" text-anchor="end" font-weight="normal"  textLength="28.15" lengthAdjust="spacingAndGlyphs">88,50%</text>
<text x="813.90" y="581.40" font-size="9.3" fill="#4a80d4" text-anchor="end" font-weight="normal"  textLength="16.84" lengthAdjust="spacingAndGlyphs">0,62</text>
<text x="861.90" y="581.40" font-size="9.3" fill="#404040" text-anchor="end" font-weight="normal"  textLength="30.77" lengthAdjust="spacingAndGlyphs">$300 Mi</text>
<text x="913.00" y="581.40" font-size="9.3" fill="#404040" text-anchor="end" font-weight="normal"  textLength="40.87" lengthAdjust="spacingAndGlyphs">-425,00 Mi</text>
<text x="966.80" y="581.40" font-size="9.3" fill="#404040" text-anchor="end" font-weight="normal"  textLength="30.77" lengthAdjust="spacingAndGlyphs">$729 Mi</text>
<text x="1018.60" y="581.40" font-size="9.3" fill="#6b3a40" text-anchor="end" font-weight="normal"  textLength="36.53" lengthAdjust="spacingAndGlyphs">($125 Mi)</text>
<text x="1045.40" y="581.40" font-size="9.3" fill="#d05a6e" text-anchor="start" font-weight="normal"  textLength="21.52" lengthAdjust="spacingAndGlyphs">141,6</text>
<text x="12.10" y="594.80" font-size="9.3" fill="#444" text-anchor="start" font-weight="normal"  textLength="18.80" lengthAdjust="spacingAndGlyphs">2010</text>
<text x="114.80" y="594.80" font-size="9.3" fill="#404040" text-anchor="end" font-weight="normal"  textLength="37.99" lengthAdjust="spacingAndGlyphs">$3.543 Mi</text>
<text x="183.60" y="594.80" font-size="9.3" fill="#404040" text-anchor="end" font-weight="normal"  textLength="37.99" lengthAdjust="spacingAndGlyphs">$4.391 Mi</text>
<text x="243.60" y="594.80" font-size="9.3" fill="#404040" text-anchor="end" font-weight="normal"  textLength="30.77" lengthAdjust="spacingAndGlyphs">$533 Mi</text>
<text x="291.70" y="594.80" font-size="9.3" fill="#4a80d4" text-anchor="end" font-weight="normal"  textLength="30.77" lengthAdjust="spacingAndGlyphs">$786 Mi</text>
<text x="382.60" y="594.80" font-size="9.3" fill="#404040" text-anchor="end" font-weight="normal"  textLength="30.77" lengthAdjust="spacingAndGlyphs">$123 Mi</text>
<text x="456.40" y="594.80" font-size="9.3" fill="#404040" text-anchor="end" font-weight="normal"  textLength="28.15" lengthAdjust="spacingAndGlyphs">12,14%</text>
<text x="494.60" y="594.80" font-size="9.3" fill="#404040" text-anchor="end" font-weight="normal"  textLength="28.15" lengthAdjust="spacingAndGlyphs">15,04%</text>
<text x="542.10" y="594.80" font-size="9.3" fill="#404040" text-anchor="end" font-weight="normal"  textLength="37.99" lengthAdjust="spacingAndGlyphs">$2.552 Mi</text>
<text x="599.40" y="594.80" font-size="9.3" fill="#404040" text-anchor="end" font-weight="normal"  textLength="37.99" lengthAdjust="spacingAndGlyphs">$2.417 Mi</text>
<text x="664.10" y="594.80" font-size="9.3" fill="#404040" text-anchor="end" font-weight="normal"  textLength="36.53" lengthAdjust="spacingAndGlyphs">($135 Mi)</text>
<text x="724.20" y="594.80" font-size="9.3" fill="#4a3b10" text-anchor="end" font-weight="normal"  textLength="28.15" lengthAdjust="spacingAndGlyphs">68,22%</text>
<text x="813.90" y="594.80" font-size="9.3" fill="#4a80d4" text-anchor="end" font-weight="normal"  textLength="19.72" lengthAdjust="spacingAndGlyphs">-0,17</text>
<text x="861.90" y="594.80" font-size="9.3" fill="#404040" text-anchor="end" font-weight="normal"  textLength="30.77" lengthAdjust="spacingAndGlyphs">$615 Mi</text>
<text x="913.00" y="594.80" font-size="9.3" fill="#404040" text-anchor="end" font-weight="normal"  textLength="40.87" lengthAdjust="spacingAndGlyphs">-377,00 Mi</text>
<text x="966.80" y="594.80" font-size="9.3" fill="#404040" text-anchor="end" font-weight="normal"  textLength="30.77" lengthAdjust="spacingAndGlyphs">$204 Mi</text>
<text x="1018.60" y="594.80" font-size="9.3" fill="#1f5f10" text-anchor="end" font-weight="normal"  textLength="30.77" lengthAdjust="spacingAndGlyphs">$238 Mi</text>
<text x="1049.70" y="594.80" font-size="9.3" fill="#d05a6e" text-anchor="start" font-weight="normal"  textLength="16.74" lengthAdjust="spacingAndGlyphs">61,3</text>
<text x="12.10" y="608.20" font-size="9.3" fill="#444" text-anchor="start" font-weight="normal"  textLength="18.80" lengthAdjust="spacingAndGlyphs">2009</text>
<text x="114.80" y="608.20" font-size="9.3" fill="#404040" text-anchor="end" font-weight="normal"  textLength="37.99" lengthAdjust="spacingAndGlyphs">$3.327 Mi</text>
<text x="183.60" y="608.20" font-size="9.3" fill="#404040" text-anchor="end" font-weight="normal"  textLength="37.99" lengthAdjust="spacingAndGlyphs">$4.210 Mi</text>
<text x="243.60" y="608.20" font-size="9.3" fill="#404040" text-anchor="end" font-weight="normal"  textLength="30.77" lengthAdjust="spacingAndGlyphs">$559 Mi</text>
<text x="291.70" y="608.20" font-size="9.3" fill="#4a80d4" text-anchor="end" font-weight="normal"  textLength="30.77" lengthAdjust="spacingAndGlyphs">$814 Mi</text>
<text x="382.60" y="608.20" font-size="9.3" fill="#404040" text-anchor="end" font-weight="normal"  textLength="29.49" lengthAdjust="spacingAndGlyphs">$111 Mi</text>
<text x="456.40" y="608.20" font-size="9.3" fill="#404040" text-anchor="end" font-weight="normal"  textLength="28.15" lengthAdjust="spacingAndGlyphs">13,28%</text>
<text x="494.60" y="608.20" font-size="9.3" fill="#404040" text-anchor="end" font-weight="normal"  textLength="28.15" lengthAdjust="spacingAndGlyphs">16,80%</text>
<text x="542.10" y="608.20" font-size="9.3" fill="#404040" text-anchor="end" font-weight="normal"  textLength="37.99" lengthAdjust="spacingAndGlyphs">$2.127 Mi</text>
<text x="599.40" y="608.20" font-size="9.3" fill="#404040" text-anchor="end" font-weight="normal"  textLength="37.99" lengthAdjust="spacingAndGlyphs">$1.871 Mi</text>
<text x="664.10" y="608.20" font-size="9.3" fill="#404040" text-anchor="end" font-weight="normal"  textLength="36.53" lengthAdjust="spacingAndGlyphs">($256 Mi)</text>
<text x="724.20" y="608.20" font-size="9.3" fill="#4a3b10" text-anchor="end" font-weight="normal"  textLength="28.15" lengthAdjust="spacingAndGlyphs">56,24%</text>
<text x="813.90" y="608.20" font-size="9.3" fill="#4a80d4" text-anchor="end" font-weight="normal"  textLength="19.72" lengthAdjust="spacingAndGlyphs">-0,31</text>
<text x="861.90" y="608.20" font-size="9.3" fill="#404040" text-anchor="end" font-weight="normal"  textLength="37.99" lengthAdjust="spacingAndGlyphs">$1.151 Mi</text>
<text x="913.00" y="608.20" font-size="9.3" fill="#404040" text-anchor="end" font-weight="normal"  textLength="40.87" lengthAdjust="spacingAndGlyphs">-267,00 Mi</text>
<text x="966.80" y="608.20" font-size="9.3" fill="#404040" text-anchor="end" font-weight="normal"  textLength="36.53" lengthAdjust="spacingAndGlyphs">($550 Mi)</text>
<text x="1018.60" y="608.20" font-size="9.3" fill="#1f5f10" text-anchor="end" font-weight="normal"  textLength="30.77" lengthAdjust="spacingAndGlyphs">$884 Mi</text>
<text x="1049.70" y="608.20" font-size="9.3" fill="#4a80d4" text-anchor="start" font-weight="normal"  textLength="16.74" lengthAdjust="spacingAndGlyphs">23,2</text>
<text x="12.10" y="621.60" font-size="9.3" fill="#444" text-anchor="start" font-weight="normal"  textLength="18.80" lengthAdjust="spacingAndGlyphs">2008</text>
<text x="114.80" y="621.60" font-size="9.3" fill="#404040" text-anchor="end" font-weight="normal"  textLength="37.35" lengthAdjust="spacingAndGlyphs">$3.119 Mi</text>
<text x="183.60" y="621.60" font-size="9.3" fill="#404040" text-anchor="end" font-weight="normal"  textLength="37.99" lengthAdjust="spacingAndGlyphs">$4.502 Mi</text>
<text x="243.60" y="621.60" font-size="9.3" fill="#404040" text-anchor="end" font-weight="normal"  textLength="30.77" lengthAdjust="spacingAndGlyphs">$573 Mi</text>
<text x="291.70" y="621.60" font-size="9.3" fill="#4a80d4" text-anchor="end" font-weight="normal"  textLength="37.99" lengthAdjust="spacingAndGlyphs">$1.027 Mi</text>
<text x="382.60" y="621.60" font-size="9.3" fill="#404040" text-anchor="end" font-weight="normal"  textLength="31.72" lengthAdjust="spacingAndGlyphs">($42 Mi)</text>
<text x="456.40" y="621.60" font-size="9.3" fill="#404040" text-anchor="end" font-weight="normal"  textLength="28.15" lengthAdjust="spacingAndGlyphs">12,73%</text>
<text x="494.60" y="621.60" font-size="9.3" fill="#404040" text-anchor="end" font-weight="normal"  textLength="28.15" lengthAdjust="spacingAndGlyphs">18,37%</text>
<text x="542.10" y="621.60" font-size="9.3" fill="#404040" text-anchor="end" font-weight="normal"  textLength="37.99" lengthAdjust="spacingAndGlyphs">$1.849 Mi</text>
<text x="599.40" y="621.60" font-size="9.3" fill="#404040" text-anchor="end" font-weight="normal"  textLength="37.99" lengthAdjust="spacingAndGlyphs">$2.161 Mi</text>
<text x="664.10" y="621.60" font-size="9.3" fill="#404040" text-anchor="end" font-weight="normal"  textLength="30.77" lengthAdjust="spacingAndGlyphs">$312 Mi</text>
<text x="724.20" y="621.60" font-size="9.3" fill="#4a3b10" text-anchor="end" font-weight="normal"  textLength="28.15" lengthAdjust="spacingAndGlyphs">69,29%</text>
<text x="813.90" y="621.60" font-size="9.3" fill="#4a80d4" text-anchor="end" font-weight="normal"  textLength="16.84" lengthAdjust="spacingAndGlyphs">0,30</text>
<text x="861.90" y="621.60" font-size="9.3" fill="#d05a6e" text-anchor="end" font-weight="normal"  textLength="31.72" lengthAdjust="spacingAndGlyphs">($81 Mi)</text>
<text x="913.00" y="621.60" font-size="9.3" fill="#404040" text-anchor="end" font-weight="normal"  textLength="40.87" lengthAdjust="spacingAndGlyphs">-463,00 Mi</text>
<text x="966.80" y="621.60" font-size="9.3" fill="#404040" text-anchor="end" font-weight="normal"  textLength="30.77" lengthAdjust="spacingAndGlyphs">$132 Mi</text>
<text x="1018.60" y="621.60" font-size="9.3" fill="#6b3a40" text-anchor="end" font-weight="normal"  textLength="36.53" lengthAdjust="spacingAndGlyphs">($544 Mi)</text>
<text x="1045.40" y="621.60" font-size="9.3" fill="#d05a6e" text-anchor="start" font-weight="normal"  textLength="21.52" lengthAdjust="spacingAndGlyphs">571,6</text>
<text x="12.10" y="635.00" font-size="9.3" fill="#444" text-anchor="start" font-weight="normal"  textLength="18.80" lengthAdjust="spacingAndGlyphs">2007</text>
<text x="114.80" y="635.00" font-size="9.3" fill="#404040" text-anchor="end" font-weight="normal"  textLength="37.99" lengthAdjust="spacingAndGlyphs">$1.829 Mi</text>
<text x="183.60" y="635.00" font-size="9.3" fill="#404040" text-anchor="end" font-weight="normal"  textLength="37.99" lengthAdjust="spacingAndGlyphs">$3.749 Mi</text>
<text x="243.60" y="635.00" font-size="9.3" fill="#404040" text-anchor="end" font-weight="normal"  textLength="30.77" lengthAdjust="spacingAndGlyphs">$574 Mi</text>
<text x="291.70" y="635.00" font-size="9.3" fill="#4a80d4" text-anchor="end" font-weight="normal"  textLength="30.77" lengthAdjust="spacingAndGlyphs">$923 Mi</text>
<text x="382.60" y="635.00" font-size="9.3" fill="#404040" text-anchor="end" font-weight="normal"  textLength="25.96" lengthAdjust="spacingAndGlyphs">$35 Mi</text>
<text x="456.40" y="635.00" font-size="9.3" fill="#404040" text-anchor="end" font-weight="normal"  textLength="28.15" lengthAdjust="spacingAndGlyphs">15,31%</text>
<text x="494.60" y="635.00" font-size="9.3" fill="#404040" text-anchor="end" font-weight="normal"  textLength="28.15" lengthAdjust="spacingAndGlyphs">31,38%</text>
<text x="542.10" y="635.00" font-size="9.3" fill="#404040" text-anchor="end" font-weight="normal"  textLength="37.99" lengthAdjust="spacingAndGlyphs">$2.174 Mi</text>
<text x="599.40" y="635.00" font-size="9.3" fill="#404040" text-anchor="end" font-weight="normal"  textLength="37.99" lengthAdjust="spacingAndGlyphs">$1.731 Mi</text>
<text x="664.10" y="635.00" font-size="9.3" fill="#404040" text-anchor="end" font-weight="normal"  textLength="36.53" lengthAdjust="spacingAndGlyphs">($443 Mi)</text>
<text x="724.20" y="635.00" font-size="9.3" fill="#4a3b10" text-anchor="end" font-weight="normal"  textLength="28.15" lengthAdjust="spacingAndGlyphs">94,64%</text>
<text x="813.90" y="635.00" font-size="9.3" fill="#4a80d4" text-anchor="end" font-weight="normal"  textLength="19.72" lengthAdjust="spacingAndGlyphs">-0,48</text>
<text x="861.90" y="635.00" font-size="9.3" fill="#404040" text-anchor="end" font-weight="normal"  textLength="30.77" lengthAdjust="spacingAndGlyphs">$813 Mi</text>
<text x="913.00" y="635.00" font-size="9.3" fill="#404040" text-anchor="end" font-weight="normal"  textLength="40.87" lengthAdjust="spacingAndGlyphs">-379,00 Mi</text>
<text x="966.80" y="635.00" font-size="9.3" fill="#404040" text-anchor="end" font-weight="normal"  textLength="25.96" lengthAdjust="spacingAndGlyphs">$62 Mi</text>
<text x="1018.60" y="635.00" font-size="9.3" fill="#1f5f10" text-anchor="end" font-weight="normal"  textLength="30.77" lengthAdjust="spacingAndGlyphs">$434 Mi</text>
<text x="1049.70" y="635.00" font-size="9.3" fill="#4a80d4" text-anchor="start" font-weight="normal"  textLength="16.74" lengthAdjust="spacingAndGlyphs">46,6</text>
<text x="12.10" y="648.40" font-size="9.3" fill="#444" text-anchor="start" font-weight="normal"  textLength="18.80" lengthAdjust="spacingAndGlyphs">2006</text>
<text x="114.80" y="648.40" font-size="9.3" fill="#404040" text-anchor="end" font-weight="normal"  textLength="37.99" lengthAdjust="spacingAndGlyphs">$1.552 Mi</text>
<text x="183.60" y="648.40" font-size="9.3" fill="#404040" text-anchor="end" font-weight="normal"  textLength="37.99" lengthAdjust="spacingAndGlyphs">$3.009 Mi</text>
<text x="243.60" y="648.40" font-size="9.3" fill="#404040" text-anchor="end" font-weight="normal"  textLength="30.77" lengthAdjust="spacingAndGlyphs">$502 Mi</text>
<text x="291.70" y="648.40" font-size="9.3" fill="#4a80d4" text-anchor="end" font-weight="normal"  textLength="30.77" lengthAdjust="spacingAndGlyphs">$666 Mi</text>
<text x="382.60" y="648.40" font-size="9.3" fill="#404040" text-anchor="end" font-weight="normal"  textLength="25.96" lengthAdjust="spacingAndGlyphs">$89 Mi</text>
<text x="456.40" y="648.40" font-size="9.3" fill="#404040" text-anchor="end" font-weight="normal"  textLength="28.15" lengthAdjust="spacingAndGlyphs">16,68%</text>
<text x="494.60" y="648.40" font-size="9.3" fill="#404040" text-anchor="end" font-weight="normal"  textLength="28.15" lengthAdjust="spacingAndGlyphs">32,35%</text>
<text x="542.10" y="648.40" font-size="9.3" fill="#404040" text-anchor="end" font-weight="normal"  textLength="37.99" lengthAdjust="spacingAndGlyphs">$1.716 Mi</text>
<text x="599.40" y="648.40" font-size="9.3" fill="#404040" text-anchor="end" font-weight="normal"  textLength="37.35" lengthAdjust="spacingAndGlyphs">$1.411 Mi</text>
<text x="664.10" y="648.40" font-size="9.3" fill="#404040" text-anchor="end" font-weight="normal"  textLength="36.53" lengthAdjust="spacingAndGlyphs">($305 Mi)</text>
<text x="724.20" y="648.40" font-size="9.3" fill="#4a3b10" text-anchor="end" font-weight="normal"  textLength="28.15" lengthAdjust="spacingAndGlyphs">90,91%</text>
<text x="813.90" y="648.40" font-size="9.3" fill="#4a80d4" text-anchor="end" font-weight="normal"  textLength="19.72" lengthAdjust="spacingAndGlyphs">-0,46</text>
<text x="861.90" y="648.40" font-size="9.3" fill="#404040" text-anchor="end" font-weight="normal"  textLength="30.77" lengthAdjust="spacingAndGlyphs">$695 Mi</text>
<text x="913.00" y="648.40" font-size="9.3" fill="#404040" text-anchor="end" font-weight="normal"  textLength="39.58" lengthAdjust="spacingAndGlyphs">-111,00 Mi</text>
<text x="966.80" y="648.40" font-size="9.3" fill="#404040" text-anchor="end" font-weight="normal"  textLength="36.53" lengthAdjust="spacingAndGlyphs">($415 Mi)</text>
<text x="1018.60" y="648.40" font-size="9.3" fill="#1f5f10" text-anchor="end" font-weight="normal"  textLength="30.77" lengthAdjust="spacingAndGlyphs">$584 Mi</text>
<text x="1049.70" y="648.40" font-size="9.3" fill="#4a80d4" text-anchor="start" font-weight="normal"  textLength="16.74" lengthAdjust="spacingAndGlyphs">15,9</text>
<text x="12.10" y="661.80" font-size="9.3" fill="#444" text-anchor="start" font-weight="normal"  textLength="18.80" lengthAdjust="spacingAndGlyphs">2005</text>
<text x="114.80" y="661.80" font-size="9.3" fill="#404040" text-anchor="end" font-weight="normal"  textLength="37.99" lengthAdjust="spacingAndGlyphs">$1.371 Mi</text>
<text x="183.60" y="661.80" font-size="9.3" fill="#404040" text-anchor="end" font-weight="normal"  textLength="37.99" lengthAdjust="spacingAndGlyphs">$2.514 Mi</text>
<text x="243.60" y="661.80" font-size="9.3" fill="#404040" text-anchor="end" font-weight="normal"  textLength="30.77" lengthAdjust="spacingAndGlyphs">$374 Mi</text>
<text x="291.70" y="661.80" font-size="9.3" fill="#4a80d4" text-anchor="end" font-weight="normal"  textLength="30.77" lengthAdjust="spacingAndGlyphs">$504 Mi</text>
<text x="382.60" y="661.80" font-size="9.3" fill="#404040" text-anchor="end" font-weight="normal"  textLength="25.96" lengthAdjust="spacingAndGlyphs">$77 Mi</text>
<text x="456.40" y="661.80" font-size="9.3" fill="#404040" text-anchor="end" font-weight="normal"  textLength="28.15" lengthAdjust="spacingAndGlyphs">14,88%</text>
<text x="494.60" y="661.80" font-size="9.3" fill="#404040" text-anchor="end" font-weight="normal"  textLength="28.15" lengthAdjust="spacingAndGlyphs">27,28%</text>
<text x="542.10" y="661.80" font-size="9.3" fill="#404040" text-anchor="end" font-weight="normal"  textLength="37.99" lengthAdjust="spacingAndGlyphs">$1.349 Mi</text>
<text x="599.40" y="661.80" font-size="9.3" fill="#404040" text-anchor="end" font-weight="normal"  textLength="37.99" lengthAdjust="spacingAndGlyphs">$1.347 Mi</text>
<text x="664.10" y="661.80" font-size="9.3" fill="#404040" text-anchor="end" font-weight="normal"  textLength="26.91" lengthAdjust="spacingAndGlyphs">($2 Mi)</text>
<text x="724.20" y="661.80" font-size="9.3" fill="#4a3b10" text-anchor="end" font-weight="normal"  textLength="28.15" lengthAdjust="spacingAndGlyphs">98,25%</text>
<text x="813.90" y="661.80" font-size="9.3" fill="#4a80d4" text-anchor="end" font-weight="normal"  textLength="16.84" lengthAdjust="spacingAndGlyphs">0,00</text>
<text x="861.90" y="661.80" font-size="9.3" fill="#404040" text-anchor="end" font-weight="normal"  textLength="30.77" lengthAdjust="spacingAndGlyphs">$670 Mi</text>
<text x="913.00" y="661.80" font-size="9.3" fill="#404040" text-anchor="end" font-weight="normal"  textLength="40.87" lengthAdjust="spacingAndGlyphs">-146,00 Mi</text>
<text x="966.80" y="661.80" font-size="9.3" fill="#404040" text-anchor="end" font-weight="normal"  textLength="30.13" lengthAdjust="spacingAndGlyphs">$211 Mi</text>
<text x="1018.60" y="661.80" font-size="9.3" fill="#1f5f10" text-anchor="end" font-weight="normal"  textLength="30.77" lengthAdjust="spacingAndGlyphs">$524 Mi</text>
<text x="1049.70" y="661.80" font-size="9.3" fill="#4a80d4" text-anchor="start" font-weight="normal"  textLength="16.74" lengthAdjust="spacingAndGlyphs">21,7</text>
<text x="12.10" y="675.20" font-size="9.3" fill="#444" text-anchor="start" font-weight="normal"  textLength="18.80" lengthAdjust="spacingAndGlyphs">2004</text>
<text x="114.80" y="675.20" font-size="9.3" fill="#404040" text-anchor="end" font-weight="normal"  textLength="37.99" lengthAdjust="spacingAndGlyphs">$1.162 Mi</text>
<text x="183.60" y="675.20" font-size="9.3" fill="#404040" text-anchor="end" font-weight="normal"  textLength="37.99" lengthAdjust="spacingAndGlyphs">$2.203 Mi</text>
<text x="243.60" y="675.20" font-size="9.3" fill="#404040" text-anchor="end" font-weight="normal"  textLength="30.77" lengthAdjust="spacingAndGlyphs">$402 Mi</text>
<text x="291.70" y="675.20" font-size="9.3" fill="#4a80d4" text-anchor="end" font-weight="normal"  textLength="30.77" lengthAdjust="spacingAndGlyphs">$551 Mi</text>
<text x="382.60" y="675.20" font-size="9.3" fill="#404040" text-anchor="end" font-weight="normal"  textLength="25.96" lengthAdjust="spacingAndGlyphs">$48 Mi</text>
<text x="456.40" y="675.20" font-size="9.3" fill="#404040" text-anchor="end" font-weight="normal"  textLength="28.15" lengthAdjust="spacingAndGlyphs">18,25%</text>
<text x="494.60" y="675.20" font-size="9.3" fill="#404040" text-anchor="end" font-weight="normal"  textLength="28.15" lengthAdjust="spacingAndGlyphs">34,60%</text>
<text x="542.10" y="675.20" font-size="9.3" fill="#404040" text-anchor="end" font-weight="normal"  textLength="30.77" lengthAdjust="spacingAndGlyphs">$660 Mi</text>
<text x="599.40" y="675.20" font-size="9.3" fill="#404040" text-anchor="end" font-weight="normal"  textLength="30.77" lengthAdjust="spacingAndGlyphs">$792 Mi</text>
<text x="664.10" y="675.20" font-size="9.3" fill="#404040" text-anchor="end" font-weight="normal"  textLength="30.77" lengthAdjust="spacingAndGlyphs">$132 Mi</text>
<text x="724.20" y="675.20" font-size="9.3" fill="#4a3b10" text-anchor="end" font-weight="normal"  textLength="28.15" lengthAdjust="spacingAndGlyphs">68,16%</text>
<text x="813.90" y="675.20" font-size="9.3" fill="#4a80d4" text-anchor="end" font-weight="normal"  textLength="16.84" lengthAdjust="spacingAndGlyphs">0,24</text>
<text x="861.90" y="675.20" font-size="9.3" fill="#404040" text-anchor="end" font-weight="normal"  textLength="30.77" lengthAdjust="spacingAndGlyphs">$336 Mi</text>
<text x="913.00" y="675.20" font-size="9.3" fill="#404040" text-anchor="end" font-weight="normal"  textLength="40.87" lengthAdjust="spacingAndGlyphs">-206,00 Mi</text>
<text x="966.80" y="675.20" font-size="9.3" fill="#404040" text-anchor="end" font-weight="normal"  textLength="25.96" lengthAdjust="spacingAndGlyphs">$98 Mi</text>
<text x="1018.60" y="675.20" font-size="9.3" fill="#1f5f10" text-anchor="end" font-weight="normal"  textLength="30.77" lengthAdjust="spacingAndGlyphs">$130 Mi</text>
<text x="1049.70" y="675.20" font-size="9.3" fill="#d05a6e" text-anchor="start" font-weight="normal"  textLength="16.74" lengthAdjust="spacingAndGlyphs">61,3</text>
</g>
<rect x="8" y="679.6" width="960" height="5.2" rx="2.6" fill="#b3b3b3"/>
<rect x="1065.8" y="486.5" width="4.2" height="111" rx="2" fill="#b8b8b8"/>
</svg>
</body></html>
